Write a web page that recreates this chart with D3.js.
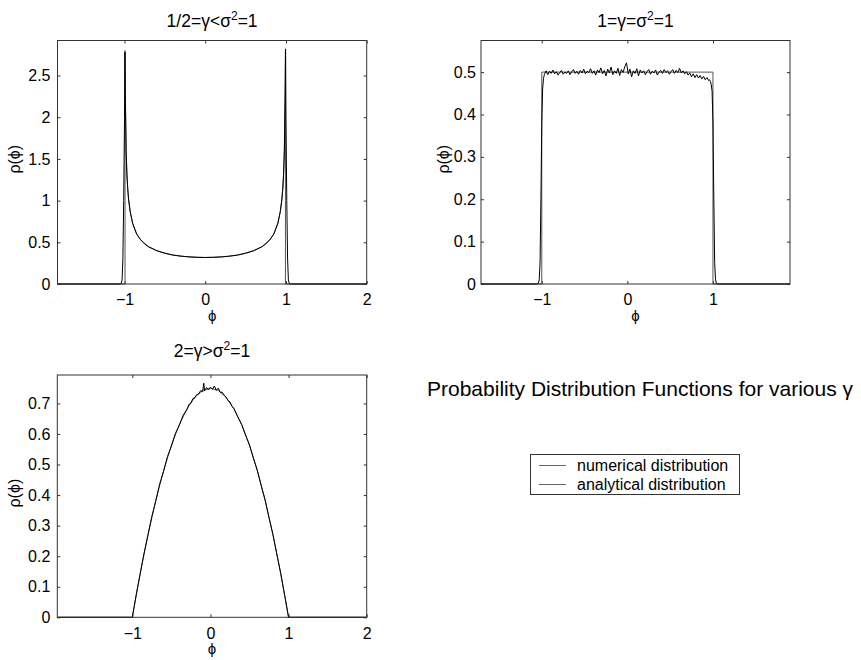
<!DOCTYPE html>
<html>
<head>
<meta charset="utf-8">
<script src="https://cdn.jsdelivr.net/npm/d3@7"></script>
<style>
  body { margin: 0; background: #fff; }
  svg { font-family: "Liberation Sans", Arial, Helvetica, sans-serif; }
  .tick text { font-size: 16px; fill: #000; }
  .tick line { stroke: #333; }
</style>
</head>
<body>
<svg id="fig" width="861" height="660"></svg>
<script>
// ---- data ----
// panel 1: gamma = 1/2
const phi1Num = [-1.83, -1.06, -1.04, -1.03, -1.02, -1.01, -1.0, -0.995, -0.99, -0.98, -0.97, -0.96, -0.95, -0.93, -0.9, -0.85, -0.8, -0.75, -0.7, -0.6, -0.5, -0.4, -0.3, -0.2, -0.1, 0,
  0.1, 0.2, 0.3, 0.4, 0.5, 0.6, 0.7, 0.75, 0.8, 0.85, 0.9, 0.93, 0.95, 0.96, 0.97, 0.98, 0.99, 0.995, 1.0, 1.01, 1.02, 1.03, 1.04, 1.06, 2.0];
const rho1Num = [0, 0, 0.01, 0.05, 0.3, 1.0, 2.0, 2.78, 2.3, 1.6, 1.31, 1.14, 1.02, 0.87, 0.73, 0.6, 0.53, 0.48, 0.445, 0.40, 0.37, 0.347, 0.334, 0.325, 0.32, 0.318,
  0.32, 0.325, 0.334, 0.347, 0.37, 0.40, 0.445, 0.48, 0.53, 0.6, 0.73, 0.87, 1.02, 1.14, 1.31, 1.6, 2.3, 2.82, 2.0, 1.0, 0.3, 0.05, 0.01, 0, 0];
const phi1An = [-1.83, -0.9935, -0.9935, -0.99, -0.98, -0.97, -0.96, -0.95, -0.93, -0.9, -0.85, -0.8, -0.7, -0.6, -0.5, -0.4, -0.3, -0.2, -0.1, 0,
  0.1, 0.2, 0.3, 0.4, 0.5, 0.6, 0.7, 0.8, 0.85, 0.9, 0.93, 0.95, 0.96, 0.97, 0.98, 0.99, 0.9935, 0.9935, 2.0];
const rho1An = [0, 0, 2.8, 2.26, 1.6, 1.31, 1.14, 1.02, 0.87, 0.73, 0.60, 0.53, 0.446, 0.398, 0.368, 0.347, 0.334, 0.325, 0.32, 0.318,
  0.32, 0.325, 0.334, 0.347, 0.368, 0.398, 0.446, 0.53, 0.60, 0.73, 0.87, 1.02, 1.14, 1.31, 1.6, 2.26, 2.8, 0, 0];

// panel 2: gamma = 1
const phi2Num = [-1.71, -1.06, -1.04, -1.03, -1.02, -1.01, -1.0, -0.99, -0.98, -0.97,
  -0.95, -0.93, -0.91, -0.89, -0.87, -0.85, -0.83, -0.81, -0.79, -0.77, -0.75, -0.73, -0.71, -0.69, -0.67, -0.65,
  -0.63, -0.61, -0.59, -0.57, -0.55, -0.53, -0.51, -0.49, -0.47, -0.45, -0.43, -0.41, -0.39, -0.37, -0.35, -0.33,
  -0.31, -0.29, -0.27, -0.25, -0.23, -0.21, -0.19, -0.17, -0.15, -0.13, -0.11, -0.09, -0.07, -0.05, -0.03, -0.01,
  0.01, 0.03, 0.05, 0.07, 0.09, 0.11, 0.13, 0.15, 0.17, 0.19, 0.21, 0.23, 0.25, 0.27, 0.29, 0.31, 0.33, 0.35,
  0.37, 0.39, 0.41, 0.43, 0.45, 0.47, 0.49, 0.51, 0.53, 0.55, 0.57, 0.59, 0.61, 0.63, 0.65, 0.67, 0.69, 0.71,
  0.73, 0.75, 0.77, 0.79, 0.81, 0.83, 0.85, 0.87, 0.89, 0.91, 0.93, 0.95,
  0.96, 0.97, 0.98, 0.99, 1.0, 1.01, 1.02, 1.03, 1.04, 1.06, 1.9];
const rho2Num = [0, 0, 0.002, 0.01, 0.05, 0.2, 0.38, 0.46, 0.485, 0.494,
  0.503, 0.494, 0.502, 0.497, 0.505, 0.496, 0.501, 0.493, 0.499, 0.504, 0.495, 0.500, 0.497, 0.503, 0.494, 0.501,
  0.506, 0.497, 0.502, 0.495, 0.504, 0.498, 0.507, 0.496, 0.502, 0.499, 0.508, 0.497, 0.503, 0.493, 0.505, 0.499,
  0.510, 0.496, 0.504, 0.491, 0.507, 0.498, 0.512, 0.494, 0.503, 0.497, 0.509, 0.492, 0.506, 0.499, 0.513, 0.522,
  0.496, 0.507, 0.489, 0.503, 0.497, 0.508, 0.491, 0.505, 0.498, 0.503, 0.494, 0.501, 0.506, 0.495, 0.502, 0.498, 0.505, 0.493,
  0.500, 0.504, 0.497, 0.506, 0.499, 0.503, 0.495, 0.501, 0.506, 0.497, 0.504, 0.499, 0.509, 0.498, 0.503, 0.496, 0.501, 0.493,
  0.498, 0.489, 0.496, 0.487, 0.494, 0.486, 0.492, 0.484, 0.490, 0.482, 0.487, 0.480,
  0.482, 0.478, 0.47, 0.455, 0.38, 0.2, 0.05, 0.01, 0.002, 0, 0];
const phi2An = [-1.71, -1.0, -1.0, 1.0, 1.0, 1.9];
const rho2An = [0, 0, 0.5, 0.5, 0, 0];

// panel 3: gamma = 2
const phi3Num = [-1.96, -1.0, -0.95, -0.9, -0.85, -0.8, -0.75, -0.7, -0.65, -0.6, -0.55, -0.5, -0.45, -0.4, -0.35,
  -0.3, -0.275, -0.25, -0.225, -0.2, -0.175, -0.15, -0.125, -0.1, -0.085, -0.075, -0.05, -0.025, 0,
  0.025, 0.05, 0.075, 0.1, 0.125, 0.15, 0.175, 0.2, 0.225, 0.25, 0.275, 0.3,
  0.35, 0.4, 0.45, 0.5, 0.55, 0.6, 0.65, 0.7, 0.75, 0.8, 0.85, 0.9, 0.95, 1.0, 2.0];
const rho3Num = [0, 0, 0.074, 0.141, 0.209, 0.268, 0.330, 0.380, 0.436, 0.477, 0.526, 0.560, 0.601, 0.627, 0.661,
  0.680, 0.697, 0.701, 0.716, 0.718, 0.729, 0.731, 0.742, 0.738, 0.766, 0.741, 0.752, 0.744, 0.753,
  0.746, 0.757, 0.743, 0.750, 0.736, 0.737, 0.727, 0.721, 0.709, 0.705, 0.690, 0.684,
  0.656, 0.631, 0.596, 0.564, 0.521, 0.481, 0.431, 0.384, 0.326, 0.271, 0.207, 0.143, 0.072, 0, 0];
const phi3An = [-1.96, -1.0, -0.9, -0.8, -0.7, -0.6, -0.5, -0.4, -0.3, -0.2, -0.1, 0, 0.1, 0.2, 0.3, 0.4, 0.5, 0.6, 0.7, 0.8, 0.9, 1.0, 2.0];
const rho3An = [0, 0, 0.1425, 0.27, 0.3825, 0.48, 0.5625, 0.63, 0.6825, 0.72, 0.7425, 0.75, 0.7425, 0.72, 0.6825, 0.63, 0.5625, 0.48, 0.3825, 0.27, 0.1425, 0, 0];

// tick labels
const xTicks1 = [-1, 0, 1, 2];
const xTicks2 = [-1, 0, 1];
const xTicks3 = [-1, 0, 1, 2];
const yTicks1 = [0, 0.5, 1, 1.5, 2, 2.5];
const yTicks2 = [0, 0.1, 0.2, 0.3, 0.4, 0.5];
const yTicks3 = [0, 0.1, 0.2, 0.3, 0.4, 0.5, 0.6, 0.7];

const legendLabels = ["numerical distribution", "analytical distribution"];
const seriesColors = ["#000", "#555"];

const svg = d3.select("#fig");
const fmt = d3.format("~g");

function panel(cfg) {
  const w = cfg.right - cfg.left, h = cfg.bottom - cfg.top;
  const g = svg.append("g").attr("transform", "translate(" + cfg.left + "," + cfg.top + ")");
  const x = d3.scaleLinear().domain(cfg.xDomain).range([0, w]);
  const y = d3.scaleLinear().domain(cfg.yDomain).range([h, 0]);

  // ticks (inward, on all four sides like matlab)
  g.append("g").attr("transform", "translate(0," + h + ")")
    .call(d3.axisBottom(x).tickValues(cfg.xTicks).tickSize(-3).tickPadding(10).tickFormat(fmt))
    .call(a => a.select(".domain").remove());
  g.append("g")
    .call(d3.axisTop(x).tickValues(cfg.xTicks).tickSize(-3).tickFormat(""))
    .call(a => a.select(".domain").remove());
  g.append("g")
    .call(d3.axisLeft(y).tickValues(cfg.yTicks).tickSize(-3).tickPadding(cfg.yPad).tickFormat(fmt))
    .call(a => a.select(".domain").remove());
  g.append("g").attr("transform", "translate(" + w + ",0)")
    .call(d3.axisRight(y).tickValues(cfg.yTicks).tickSize(-3).tickFormat(""))
    .call(a => a.select(".domain").remove());
  g.selectAll(".tick text").attr("font-family", null).attr("font-size", null);

  const line = d3.line().x(d => x(d[0])).y(d => y(d[1]));
  g.append("path")
    .datum(d3.zip(cfg.anX, cfg.anY))
    .attr("fill", "none").attr("stroke", seriesColors[1]).attr("stroke-width", 1)
    .attr("d", line);
  g.append("path")
    .datum(d3.zip(cfg.numX, cfg.numY))
    .attr("fill", "none").attr("stroke", seriesColors[0]).attr("stroke-width", 1)
    .attr("stroke-linejoin", "round")
    .attr("d", line);

  g.append("rect").attr("width", w).attr("height", h)
    .attr("fill", "none").attr("stroke", "#333").attr("stroke-width", 1);

  // title with superscript
  const t = svg.append("text")
    .attr("x", cfg.left + w / 2).attr("y", cfg.titleY)
    .attr("text-anchor", "middle").attr("font-size", 17.5);
  t.append("tspan").text(cfg.title[0]);
  t.append("tspan").attr("font-size", 12).attr("dy", -7).text("2");
  t.append("tspan").attr("dy", 7).text(cfg.title[1]);

  svg.append("text")
    .attr("x", cfg.left + w / 2).attr("y", cfg.bottom + 37)
    .attr("text-anchor", "middle").attr("font-size", 15)
    .text("ϕ");
  svg.append("text")
    .attr("transform", "translate(" + cfg.yLabelX + "," + (cfg.top + h / 2 - 3) + ") rotate(-90)")
    .attr("text-anchor", "middle").attr("font-size", 16)
    .text("ρ(ϕ)");
}

panel({
  left: 57.5, right: 366.7, top: 40.5, bottom: 284,
  xDomain: [-1.83, 2], yDomain: [0, 2.92],
  xTicks: xTicks1, yTicks: yTicks1, yPad: 7,
  numX: phi1Num, numY: rho1Num, anX: phi1An, anY: rho1An,
  title: ["1/2=γ<σ", "=1"], titleY: 27, yLabelX: 20
});
panel({
  left: 481, right: 790, top: 40.5, bottom: 284,
  xDomain: [-1.71, 1.90], yDomain: [0, 0.5746],
  xTicks: xTicks2, yTicks: yTicks2, yPad: 5,
  numX: phi2Num, numY: rho2Num, anX: phi2An, anY: rho2An,
  title: ["1=γ=σ", "=1"], titleY: 27, yLabelX: 449
});
panel({
  left: 57.3, right: 366.7, top: 375, bottom: 617.3,
  xDomain: [-1.96, 2], yDomain: [0, 0.793],
  xTicks: xTicks3, yTicks: yTicks3, yPad: 7,
  numX: phi3Num, numY: rho3Num, anX: phi3An, anY: rho3An,
  title: ["2=γ>σ", "=1"], titleY: 357, yLabelX: 20
});

// overall title
svg.append("text")
  .attr("x", 427).attr("y", 396)
  .attr("font-size", 21)
  .text("Probability Distribution Functions for various γ");

// legend
const leg = svg.append("g");
leg.append("rect")
  .attr("x", 530.5).attr("y", 454.5).attr("width", 209).attr("height", 40)
  .attr("fill", "#fff").attr("stroke", "#333");
legendLabels.forEach((lab, i) => {
  const yy = 465.5 + i * 19;
  leg.append("line")
    .attr("x1", 539).attr("x2", 566).attr("y1", yy).attr("y2", yy)
    .attr("stroke", "#666");
  leg.append("text")
    .attr("x", 577).attr("y", yy + 5.5)
    .attr("font-size", 16)
    .text(lab);
});
</script>
</body>
</html>
